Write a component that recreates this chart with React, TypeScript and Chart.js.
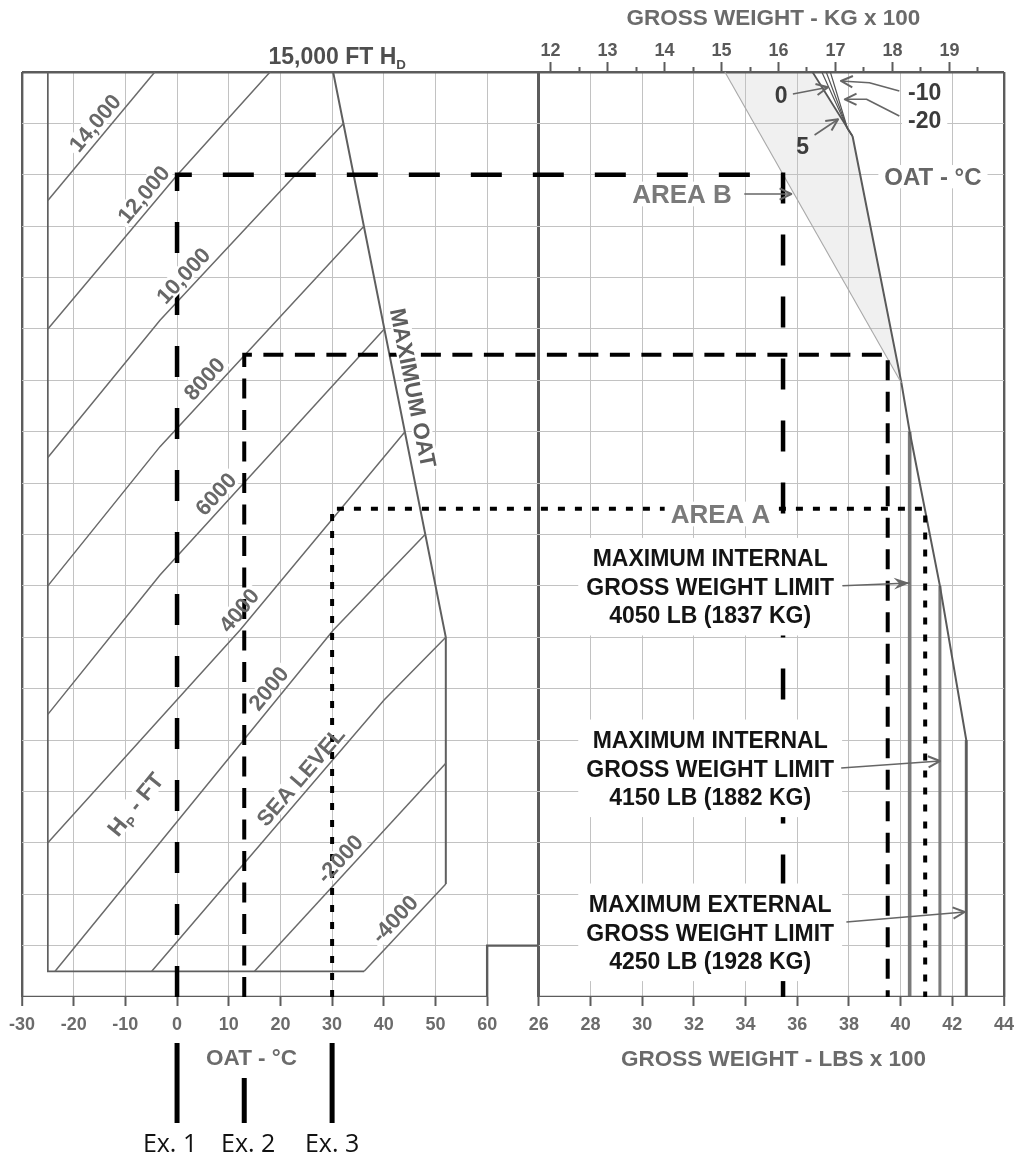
import React, { useEffect, useRef } from 'react';
import { Chart, registerables } from 'chart.js';

Chart.register(...registerables);

const FONT = '"Liberation Sans", Arial, Helvetica, sans-serif';
const EX_FONT = '"Open Sans", "Noto Sans", sans-serif';
const GRID = '#c2c2c2';
const FRAME = '#5c5c5c';
const CURVE = '#6a6a6a';
const LABEL = '#686868';
const AXIS_TXT = '#6b6b6b';

// ---------------- axes ----------------
const oatTicks = [-30, -20, -10, 0, 10, 20, 30, 40, 50, 60];
const lbsTicks = [26, 28, 30, 32, 34, 36, 38, 40, 42, 44];
const kgTicks = [12, 12.5, 13, 13.5, 14, 14.5, 15, 15.5, 16, 16.5, 17, 17.5, 18, 18.5, 19, 19.5];
const kgTickLabels = ['12', '', '13', '', '14', '', '15', '', '16', '', '17', '', '18', '', '19', ''];
const LB_PER_KG = 2.20462;
const oatRange = [-30, 160]; // OAT axis runs on under the weight panel at 10 °C per square
const lbsRange = [6, 44]; // weight axis, 200 lb per square
const hdMin = -3000;
const hdMax = 15000;
const hdStep = 1000;

// ---------------- left panel: pressure altitude lines (OAT °C / density altitude ft) ----------------
const hpNames = ['14,000', '12,000', '10,000', '8000', '6000', '4000', '2000', 'SEA LEVEL', '-2000', '-4000'];
const hpOat = [
  [-25, -4.3],
  [-25, 0, 18],
  [-25, -3.3, 32.2],
  [-25, -3.3, 36.15],
  [-25, -3.3, 40.1],
  [-25, 12.2, 44.1],
  [-23.6, 30.25, 48],
  [-4.9, 40.05, 52],
  [15, 52],
  [36.2, 52],
];
const hpHd = [
  [12500, 15000],
  [10000, 12990, 15000],
  [7500, 10170, 14000],
  [5000, 7710, 12000],
  [2500, 5210, 10000],
  [0, 4140, 8000],
  [-2500, 4140, 6000],
  [-2500, 2780, 4000],
  [-2500, 1550],
  [-2500, -800],
];
const maxOatOat = [30.2, 52, 52];
const maxOatHd = [15000, 4000, -800];
const innerFrameOat = [-25, -25, 36.2];
const innerFrameHd = [15000, -2500, -2500];
const leftBaseOat = [-30, 60, 60, 70];
const leftBaseHd = [-3000, -3000, -2000, -2000];

// ---------------- right panel: gross weight (lbs x 100 / density altitude ft) ----------------
const rightBaseLbs = [26, 44];
const rightBaseHd = [-3000, -3000];
const areaBEdgeLbs = [33.2, 40.03];
const areaBEdgeHd = [15000, 8950];
const oatCurveNames = ['5', '0', '-10', '-20'];
const oatCurveLbs = [
  [36.59, 38.14],
  [36.95, 37.95, 38.14],
  [37.12, 37.95, 38.14],
  [37.28, 37.95, 38.14],
];
const oatCurveHd = [
  [15000, 13750],
  [15000, 13890, 13750],
  [15000, 13890, 13750],
  [15000, 13890, 13750],
];
const maxGwLbs = [38.14, 40.03, 40.35, 41.52, 42.54, 42.54];
const maxGwHd = [13750, 8950, 8000, 5000, 2000, -3000];
const limitLbs = [40.35, 41.52, 42.54];
const limitTopHd = [8000, 5000, 2000];
const limitText = [
  ['MAXIMUM INTERNAL', 'GROSS WEIGHT LIMIT', '4050 LB (1837 KG)'],
  ['MAXIMUM INTERNAL', 'GROSS WEIGHT LIMIT', '4150 LB (1882 KG)'],
  ['MAXIMUM EXTERNAL', 'GROSS WEIGHT LIMIT', '4250 LB (1928 KG)'],
];

// ---------------- worked examples ----------------
const exNames = ['Ex. 1', 'Ex. 2', 'Ex. 3'];
const exOat = [0, 13, 30];
const exHd = [13000, 9500, 6500];
const exLbs = [35.45, 39.5, 40.95];

// ---------------- annotation placement / styling (not data) ----------------
const exStyle = [
  { dash: [31, 31], width: 4.5 },
  { dash: [20, 11.5], width: 4 },
  { dash: [7, 10], width: 4 },
];
const exBarTop = [46, 81, 46];
const exLabelShift = [-7, 4, 0];
const hpLabelAt = [-13.9, -4.5, 3.1, 7.2, 9.4, 14.0, 19.7, 25.9, 33.4, 44.0];
const HP_OFFSET = 14;
const hpUnitLabelAt = [-8.13, 755];
const maxOatLabelAt = 8790;
const limitBlockAt = [
  [32.63, 4984],
  [32.63, 1450],
  [32.63, -1741],
];
const limitArrows = [
  [[37.75, 5004], [40.35, 5057]],
  [[37.7, 1456], [41.52, 1592]],
  [[37.9, -1541], [42.48, -1346]],
];
const rightLabels = [
  { text: 'AREA B', at: [31.54, 12626], size: 26, weight: 'bold', color: '#7a7a7a', bg: 'under' },
  { text: 'OAT - °C', at: [41.25, 12963], size: 24, weight: 'bold', color: '#666666', bg: 'under' },
  { text: 'AREA A', at: [33.03, 6399], size: 26, weight: 'bold', color: '#7a7a7a', bg: 'over' },
  { text: '0', at: [35.38, 14552], size: 23, weight: 'bold', color: '#3c3c3c', bg: 'none' },
  { text: '5', at: [36.21, 13566], size: 23, weight: 'bold', color: '#3c3c3c', bg: 'none' },
  { text: '-10', at: [40.93, 14617], size: 23, weight: 'bold', color: '#3c3c3c', bg: 'under' },
  { text: '-20', at: [40.93, 14066], size: 23, weight: 'bold', color: '#3c3c3c', bg: 'under' },
];
const rightArrows = [
  [[33.95, 12626], [35.77, 12626]],
  [[35.83, 14572], [37.19, 14702]],
  [[36.67, 13774], [37.58, 14080]],
  [[39.95, 14630], [38.79, 14792], [37.69, 14825]],
  [[39.95, 14144], [38.68, 14469], [37.84, 14469]],
];

type Part = { t: string; sub?: boolean };
type Item = {
  rows: Part[][];
  x: number;
  y: number;
  angle: number;
  size: number;
  weight: string;
  color: string;
  bg: string;
  padX: number;
  padY: number;
  gap: number;
};

const fontOf = (size: number, weight: string, family = FONT) => `${weight} ${size}px ${family}`;

function P(chart: any, panel: string, x: number, y: number) {
  const xs = chart.scales[panel === 'oat' ? 'x' : 'xLbs'];
  return { x: xs.getPixelForValue(x), y: chart.scales.y.getPixelForValue(y) };
}

function along(chart: any, panel: string, xs: number[], ys: number[], v: number, key: 'x' | 'y') {
  for (let i = 0; i < xs.length - 1; i++) {
    const a = key === 'x' ? xs[i] : ys[i];
    const b = key === 'x' ? xs[i + 1] : ys[i + 1];
    if ((v - a) * (v - b) <= 0 || i === xs.length - 2) {
      const t = (v - a) / (b - a);
      const p1 = P(chart, panel, xs[i], ys[i]);
      const p2 = P(chart, panel, xs[i + 1], ys[i + 1]);
      return {
        x: p1.x + t * (p2.x - p1.x),
        y: p1.y + t * (p2.y - p1.y),
        angle: Math.atan2(p2.y - p1.y, p2.x - p1.x),
      };
    }
  }
  return { x: 0, y: 0, angle: 0 };
}

function mk(rows: Part[][], x: number, y: number, angle: number, size: number, weight: string, color: string, bg: string, padX = 3, padY = 2, gap = 0): Item {
  return { rows, x, y, angle, size, weight, color, bg, padX, padY, gap };
}

function buildItems(chart: any): Item[] {
  const items: Item[] = [];
  hpNames.forEach((name, i) => {
    const a = along(chart, 'oat', hpOat[i], hpHd[i], hpLabelAt[i], 'x');
    const nx = Math.sin(a.angle);
    const ny = -Math.cos(a.angle);
    items.push(mk([[{ t: name }]], a.x + nx * HP_OFFSET, a.y + ny * HP_OFFSET, a.angle, 22, 'bold', LABEL, i === 2 ? 'over' : 'under'));
  });
  {
    const a = along(chart, 'oat', hpOat[6], hpHd[6], hpUnitLabelAt[0], 'x');
    const p = P(chart, 'oat', hpUnitLabelAt[0], hpUnitLabelAt[1]);
    items.push(mk([[{ t: 'H' }, { t: 'P', sub: true }, { t: ' - FT' }]], p.x, p.y, a.angle, 23, 'bold', LABEL, 'under'));
  }
  {
    const a = along(chart, 'oat', maxOatOat, maxOatHd, maxOatLabelAt, 'y');
    const nx = Math.sin(a.angle);
    const ny = -Math.cos(a.angle);
    items.push(mk([[{ t: 'MAXIMUM OAT' }]], a.x + nx * 17, a.y + ny * 17, a.angle, 22.5, 'bold', '#5e5e5e', 'over'));
  }
  rightLabels.forEach((l) => {
    const p = P(chart, 'lbs', l.at[0], l.at[1]);
    items.push(mk([[{ t: l.text }]], p.x, p.y, 0, l.size, l.weight, l.color, l.bg, 6, 3));
  });
  limitText.forEach((rows, i) => {
    const p = P(chart, 'lbs', limitBlockAt[i][0], limitBlockAt[i][1]);
    items.push(mk(rows.map((r) => [{ t: r }]), p.x, p.y, 0, 23, 'bold', '#141414', 'over', 8, 12, 28.5));
  });
  return items;
}

function rowWidth(ctx: CanvasRenderingContext2D, row: Part[], size: number, weight: string) {
  let w = 0;
  for (const p of row) {
    ctx.font = fontOf(p.sub ? size * 0.58 : size, weight);
    w += ctx.measureText(p.t).width;
  }
  return w;
}

function drawBg(ctx: CanvasRenderingContext2D, it: Item) {
  ctx.save();
  ctx.translate(it.x, it.y);
  ctx.rotate(it.angle);
  let w = 0;
  for (const r of it.rows) w = Math.max(w, rowWidth(ctx, r, it.size, it.weight));
  const h = it.size * 0.72 + (it.rows.length - 1) * it.gap;
  ctx.fillStyle = '#ffffff';
  ctx.fillRect(-w / 2 - it.padX, -h / 2 - it.padY, w + 2 * it.padX, h + 2 * it.padY);
  ctx.restore();
}

function drawText(ctx: CanvasRenderingContext2D, it: Item) {
  ctx.save();
  ctx.translate(it.x, it.y);
  ctx.rotate(it.angle);
  ctx.fillStyle = it.color;
  ctx.textAlign = 'left';
  ctx.textBaseline = 'alphabetic';
  const n = it.rows.length;
  it.rows.forEach((row, k) => {
    const w = rowWidth(ctx, row, it.size, it.weight);
    let x = -w / 2;
    const base = (k - (n - 1) / 2) * it.gap + it.size * 0.36;
    for (const p of row) {
      const s = p.sub ? it.size * 0.58 : it.size;
      ctx.font = fontOf(s, it.weight);
      ctx.fillText(p.t, x, base + (p.sub ? it.size * 0.22 : 0));
      x += ctx.measureText(p.t).width;
    }
  });
  ctx.restore();
}

function drawArrow(ctx: CanvasRenderingContext2D, pts: { x: number; y: number }[], head: string) {
  ctx.save();
  ctx.strokeStyle = '#666666';
  ctx.fillStyle = '#666666';
  ctx.lineWidth = 1.6;
  ctx.setLineDash([]);
  ctx.lineJoin = 'round';
  ctx.beginPath();
  ctx.moveTo(pts[0].x, pts[0].y);
  for (let i = 1; i < pts.length; i++) ctx.lineTo(pts[i].x, pts[i].y);
  ctx.stroke();
  const a = pts[pts.length - 1];
  const b = pts[pts.length - 2];
  const ang = Math.atan2(a.y - b.y, a.x - b.x);
  const L = 13;
  if (head === 'filled') {
    ctx.beginPath();
    ctx.moveTo(a.x, a.y);
    ctx.lineTo(a.x - L * 1.3 * Math.cos(ang - 0.36), a.y - L * 1.3 * Math.sin(ang - 0.36));
    ctx.lineTo(a.x - L * 0.8 * Math.cos(ang), a.y - L * 0.8 * Math.sin(ang));
    ctx.lineTo(a.x - L * 1.3 * Math.cos(ang + 0.36), a.y - L * 1.3 * Math.sin(ang + 0.36));
    ctx.closePath();
    ctx.fill();
  } else {
    ctx.lineWidth = 2;
    ctx.beginPath();
    ctx.moveTo(a.x - L * Math.cos(ang - 0.45), a.y - L * Math.sin(ang - 0.45));
    ctx.lineTo(a.x, a.y);
    ctx.lineTo(a.x - L * Math.cos(ang + 0.45), a.y - L * Math.sin(ang + 0.45));
    ctx.stroke();
  }
  ctx.restore();
}

const overlay = {
  id: 'overlay',
  beforeDraw(chart: any) {
    // light shading of AREA B (between the thin edge and the 5 °C line)
    const ctx: CanvasRenderingContext2D = chart.ctx;
    const poly: { x: number; y: number }[] = [];
    oatCurveLbs[0].forEach((x, i) => poly.push(P(chart, 'lbs', x, oatCurveHd[0][i])));
    poly.push(P(chart, 'lbs', maxGwLbs[1], maxGwHd[1]));
    for (let i = areaBEdgeLbs.length - 1; i >= 0; i--) poly.push(P(chart, 'lbs', areaBEdgeLbs[i], areaBEdgeHd[i]));
    ctx.save();
    ctx.fillStyle = '#f0f0f0';
    ctx.beginPath();
    poly.forEach((p, i) => (i ? ctx.lineTo(p.x, p.y) : ctx.moveTo(p.x, p.y)));
    ctx.closePath();
    ctx.fill();
    ctx.restore();
  },
  beforeDatasetsDraw(chart: any) {
    const ctx = chart.ctx;
    buildItems(chart).filter((it) => it.bg === 'under').forEach((it) => drawBg(ctx, it));
  },
  afterDatasetsDraw(chart: any) {
    const ctx: CanvasRenderingContext2D = chart.ctx;
    const area = chart.chartArea;
    const xo = chart.scales.x;
    const xl = chart.scales.xLbs;
    const ys = chart.scales.y;
    // worked examples
    exOat.forEach((oat, i) => {
      const st = exStyle[i];
      ctx.save();
      ctx.strokeStyle = '#000000';
      ctx.lineWidth = st.width;
      ctx.setLineDash(st.dash);
      ctx.lineCap = 'butt';
      ctx.lineJoin = 'miter';
      ctx.beginPath();
      ctx.moveTo(xo.getPixelForValue(oat), ys.getPixelForValue(hdMin));
      ctx.lineTo(xo.getPixelForValue(oat), ys.getPixelForValue(exHd[i]));
      ctx.lineTo(xl.getPixelForValue(exLbs[i]), ys.getPixelForValue(exHd[i]));
      ctx.lineTo(xl.getPixelForValue(exLbs[i]), ys.getPixelForValue(hdMin));
      ctx.stroke();
      ctx.setLineDash([]);
      ctx.lineWidth = 5;
      const bx = xo.getPixelForValue(oat);
      ctx.beginPath();
      ctx.moveTo(bx, area.bottom + exBarTop[i]);
      ctx.lineTo(bx, area.bottom + 126);
      ctx.stroke();
      ctx.fillStyle = '#111111';
      ctx.font = fontOf(25, 'normal', EX_FONT);
      ctx.textAlign = 'center';
      ctx.textBaseline = 'alphabetic';
      ctx.fillText(exNames[i], bx + exLabelShift[i], area.bottom + 155);
      ctx.restore();
    });
    const items = buildItems(chart);
    items.filter((it) => it.bg === 'over').forEach((it) => drawBg(ctx, it));
    rightArrows.forEach((a) => drawArrow(ctx, a.map((p) => P(chart, 'lbs', p[0], p[1])), 'open'));
    limitArrows.forEach((a, i) => drawArrow(ctx, a.map((p) => P(chart, 'lbs', p[0], p[1])), i === 0 ? 'filled' : 'open'));
    items.forEach((it) => drawText(ctx, it));
    // axis titles
    const rightMid = (xl.getPixelForValue(lbsTicks[0]) + xl.getPixelForValue(lbsTicks[lbsTicks.length - 1])) / 2;
    const leftMid = (xo.getPixelForValue(oatTicks[0]) + xo.getPixelForValue(oatTicks[oatTicks.length - 1])) / 2;
    drawText(ctx, mk([[{ t: 'GROSS WEIGHT - KG x 100' }]], rightMid + 2, area.top - 55, 0, 22.5, 'bold', AXIS_TXT, 'none'));
    drawText(ctx, mk([[{ t: 'GROSS WEIGHT - LBS x 100' }]], rightMid + 2, area.bottom + 61, 0, 22.5, 'bold', AXIS_TXT, 'none'));
    drawText(ctx, mk([[{ t: 'OAT - °C' }]], leftMid - 3, area.bottom + 60, 0, 22.5, 'bold', AXIS_TXT, 'none'));
    drawText(ctx, mk([[{ t: '15,000 FT H' }, { t: 'D', sub: true }]], xo.getPixelForValue(maxOatOat[0]) + 4, area.top - 16, 0, 23, 'bold', '#4e4e4e', 'none'));
  },
};

const pts = (xs: number[], ys: number[]) => xs.map((x, i) => ({ x, y: ys[i] }));
const ds = (data: any[], xAxisID: string, color: string, width: number, extra: any = {}) => ({
  data,
  xAxisID,
  yAxisID: 'y',
  showLine: true,
  borderColor: color,
  backgroundColor: color,
  borderWidth: width,
  pointRadius: 0,
  pointHoverRadius: 0,
  pointHitRadius: 0,
  fill: false,
  tension: 0,
  borderJoinStyle: 'miter',
  ...extra,
});

export default function App() {
  const ref = useRef<HTMLCanvasElement>(null);
  useEffect(() => {
    const datasets: any[] = [];
    hpOat.forEach((xs, i) => datasets.push(ds(pts(xs, hpHd[i]), 'x', CURVE, 1.5)));
    datasets.push(ds(pts(maxOatOat, maxOatHd), 'x', '#5f5f5f', 2));
    datasets.push(ds(pts(innerFrameOat, innerFrameHd), 'x', '#5f5f5f', 1.7));
    datasets.push(ds(pts(leftBaseOat, leftBaseHd), 'x', FRAME, 2.4));
    datasets.push(ds(pts(rightBaseLbs, rightBaseHd), 'xLbs', FRAME, 2.4));
    datasets.push(ds(pts(areaBEdgeLbs, areaBEdgeHd), 'xLbs', '#a8a8a8', 1.1));
    oatCurveLbs.forEach((xs, i) => datasets.push(ds(pts(xs, oatCurveHd[i]), 'xLbs', '#555555', i === 0 ? 1.8 : 1.2)));
    datasets.push(ds(pts(maxGwLbs, maxGwHd), 'xLbs', '#5a5a5a', 2));
    limitLbs.forEach((x, i) => datasets.push(ds(pts([x, x], [limitTopHd[i], hdMin]), 'xLbs', '#7a7a7a', i === 0 ? 3.6 : 3)));

    const tickFont = { family: FONT, size: 18, weight: 'bold' as const };
    const config: any = {
      type: 'scatter',
      data: { datasets },
      options: {
        animation: false,
        responsive: true,
        maintainAspectRatio: false,
        events: [],
        layout: { padding: { left: 22, right: 12, top: 32, bottom: 106 } },
        plugins: { legend: { display: false }, tooltip: { enabled: false } },
        scales: {
          x: {
            type: 'linear',
            axis: 'x',
            position: 'bottom',
            min: oatRange[0],
            max: oatRange[1],
            afterBuildTicks: (s: any) => {
              s.ticks = oatTicks.map((value) => ({ value }));
            },
            afterFit: (s: any) => {
              s.height = 60;
              s.paddingLeft = 0;
              s.paddingRight = 0;
            },
            ticks: { autoSkip: false, maxRotation: 0, minRotation: 0, padding: 8, color: AXIS_TXT, font: tickFont, callback: (v: number) => String(v) },
            grid: {
              color: (c: any) => (c.tick && c.tick.value === oatTicks[0] ? FRAME : GRID),
              lineWidth: (c: any) => (c.tick && c.tick.value === oatTicks[0] ? 2.4 : 1),
              tickLength: 9,
              tickColor: FRAME,
              tickWidth: 2,
            },
            border: { display: false },
          },
          xLbs: {
            type: 'linear',
            axis: 'x',
            position: { y: hdMin },
            min: lbsRange[0],
            max: lbsRange[1],
            afterBuildTicks: (s: any) => {
              s.ticks = lbsTicks.map((value) => ({ value }));
            },
            afterFit: (s: any) => {
              s.paddingLeft = 0;
              s.paddingRight = 0;
            },
            ticks: { autoSkip: false, maxRotation: 0, minRotation: 0, padding: 8, color: AXIS_TXT, font: tickFont, callback: (v: number) => String(v) },
            grid: {
              color: (c: any) => (c.tick && (c.tick.value === lbsTicks[0] || c.tick.value === lbsTicks[lbsTicks.length - 1]) ? FRAME : GRID),
              lineWidth: (c: any) => (c.tick && c.tick.value === lbsTicks[0] ? 3 : c.tick && c.tick.value === lbsTicks[lbsTicks.length - 1] ? 2.4 : 1),
              tickLength: 9,
              tickColor: FRAME,
              tickWidth: 2,
            },
            border: { display: false },
          },
          xKg: {
            type: 'linear',
            axis: 'x',
            position: 'top',
            min: lbsRange[0] / LB_PER_KG,
            max: lbsRange[1] / LB_PER_KG,
            afterBuildTicks: (s: any) => {
              s.ticks = kgTicks.map((value) => ({ value }));
            },
            afterFit: (s: any) => {
              s.height = 40;
              s.paddingLeft = 0;
              s.paddingRight = 0;
            },
            ticks: { autoSkip: false, maxRotation: 0, minRotation: 0, padding: 0, color: '#5a5a5a', font: tickFont, callback: (_v: number, i: number) => kgTickLabels[i] },
            grid: {
              drawOnChartArea: false,
              tickLength: 10,
              tickColor: FRAME,
              tickWidth: 2,
              tickBorderDash: (c: any) => (kgTickLabels[c.index] ? [] : [0, 5, 5, 60]),
            },
            border: { display: false },
          },
          y: {
            type: 'linear',
            position: 'left',
            min: hdMin,
            max: hdMax,
            afterFit: (s: any) => {
              s.width = 0;
            },
            ticks: { display: false, stepSize: hdStep, maxTicksLimit: 100 },
            grid: {
              drawTicks: false,
              color: (c: any) => (c.tick && c.tick.value === hdMax ? FRAME : c.tick && c.tick.value === hdMin ? 'rgba(0,0,0,0)' : GRID),
              lineWidth: (c: any) => (c.tick && c.tick.value === hdMax ? 2.4 : 1),
            },
            border: { display: false },
          },
        },
      },
      plugins: [overlay],
    };
    const chart = new Chart(ref.current as HTMLCanvasElement, config);
    return () => chart.destroy();
  }, []);
  return (
    <div style={{ position: 'absolute', left: 0, top: 0, width: 1016, height: 1163, background: '#ffffff' }}>
      <canvas ref={ref} />
    </div>
  );
}
